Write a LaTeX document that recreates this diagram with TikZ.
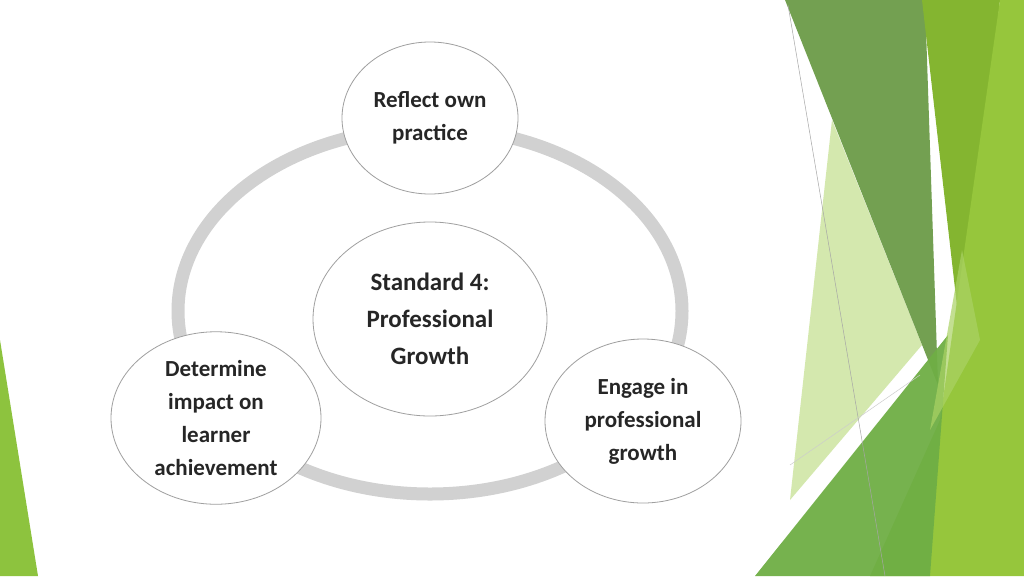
\documentclass[tikz,border=0pt]{standalone}
\usepackage{fontspec}
\setmainfont{Carlito}
\usetikzlibrary{shapes.geometric}
\begin{document}
\begin{tikzpicture}[x=1pt,y=-1pt,
  bub/.style={draw=gray!75,line width=0.8pt,fill=white,ellipse,align=center,font=\bfseries\fontsize{23}{33}\selectfont,text=black!85},
  ring/.style={draw=black!18,line width=13pt}]
\useasboundingbox (0,0) rectangle (1024,576);
\fill[white] (0,0) rectangle (1024,576);
% decoration
\fill[fill={rgb,255:red,205;green,228;blue,160},opacity=0.85] (832,120)--(922,345)--(790,500)--cycle;
\fill[fill={rgb,255:red,108;green,155;blue,72},opacity=0.95] (785,0)--(925,0)--(938,385)--cycle;
\fill[fill={rgb,255:red,132;green,181;blue,48}] (922,0)--(1000,0)--(962,350)--cycle;
\fill[fill={rgb,255:red,150;green,198;blue,60}] (1000,0)--(1024,0)--(1024,576)--(870,576)--(940,420)--cycle;
\fill[fill={rgb,255:red,111;green,174;blue,69},opacity=0.95] (755,576)--(948,335)--(930,576)--cycle;
\fill[fill={rgb,255:red,170;green,210;blue,100},opacity=0.7] (962,250)--(980,340)--(930,430)--cycle;
\fill[fill={rgb,255:red,141;green,195;blue,62}] (0,340)--(38,576)--(0,576)--cycle;
\draw[black!35,line width=0.5pt] (788,5)--(885,576);
\draw[black!20,line width=0.5pt] (790,465)--(920,375);
% ring
\coordinate (c) at (430,311);
\draw[ring] (c) ellipse [x radius=252,y radius=183];
\node[bub,minimum width=176,minimum height=152] (top) at (430,118) {Reflect own\\practice};
\node[bub,minimum width=234,minimum height=194,font=\bfseries\fontsize{25}{37}\selectfont] (mid) at (430,319) {Standard 4:\\Professional\\Growth};
\node[bub,minimum width=210,minimum height=166] (left) at (216,418) {Determine\\impact on\\learner\\achievement};
\node[bub,minimum width=196,minimum height=164] (right) at (643,421) {Engage in\\professional\\growth};
\end{tikzpicture}
\end{document}
